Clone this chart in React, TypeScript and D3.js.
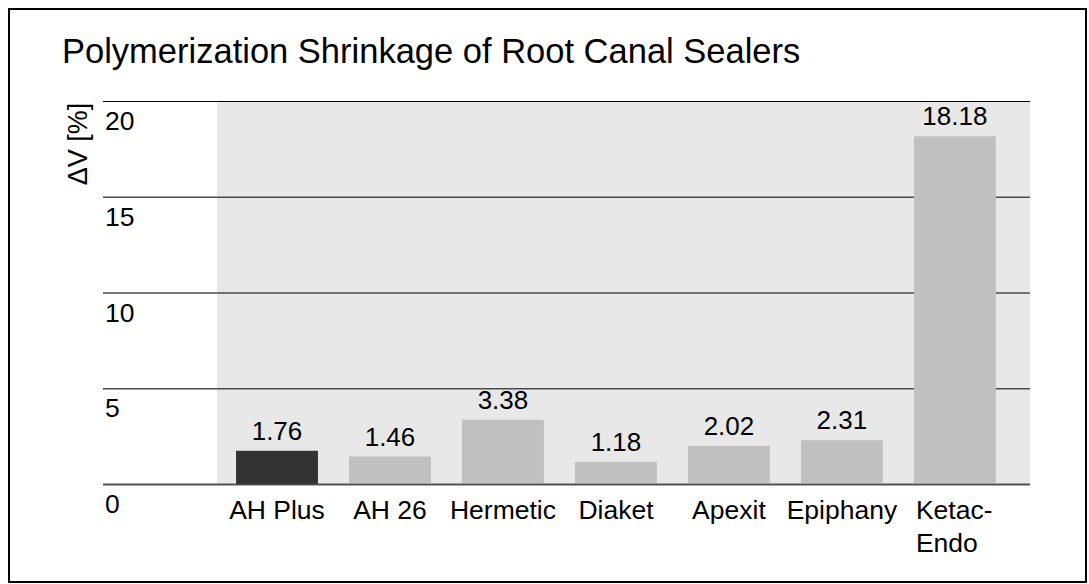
import React from 'react'
import * as d3 from 'd3'

// data
const categories = ['AH Plus', 'AH 26', 'Hermetic', 'Diaket', 'Apexit', 'Epiphany', 'Ketac-\nEndo']
const shrinkage = [1.76, 1.46, 3.38, 1.18, 2.02, 2.31, 18.18]
const yTicks = [0, 5, 10, 15, 20]
const highlight = 'AH Plus'

const W = 1089
const H = 584
const font = '"Liberation Sans", Arial, sans-serif'

export default function App() {
    const yScale = d3.scaleLinear().domain([0, 20]).range([484.5, 101.5])
    const xScale = d3.scaleBand<string>()
        .domain(categories)
        .range([220.5, 1011.4])
        .paddingInner(0.275)
        .paddingOuter(0.1375)

    const plotLeft = 217
    const plotRight = 1030
    const gridLeft = 103

    return (
        <svg width={W} height={H} style={{ position: 'absolute', left: 0, top: 0 }} fontFamily={font}>
            <rect x={0} y={0} width={W} height={H} fill="#fff" />
            <rect x={9} y={9} width={1077} height={573} fill="none" stroke="#000" strokeWidth={2} />

            <text x={62} y={63} fontSize={34.5} fill="#000">Polymerization Shrinkage of Root Canal Sealers</text>

            {/* plot background */}
            <rect x={plotLeft} y={yScale(20)} width={plotRight - plotLeft} height={yScale(0) - yScale(20)} fill="#e8e8e8" />

            {/* gridlines + tick labels */}
            {yTicks.map(t => (
                <g key={t}>
                    <line x1={gridLeft} x2={plotRight} y1={yScale(t)} y2={yScale(t)}
                        stroke={t === 20 ? '#000' : '#4a4a4a'} strokeWidth={t === 20 ? 1.2 : 1.6} />
                    <text x={105} y={yScale(t) + 28.5} fontSize={26.5} fill="#000">{t}</text>
                </g>
            ))}

            <text transform={`translate(87,144) rotate(-90)`} textAnchor="middle" fontSize={27} fill="#000">ΔV [%]</text>

            {/* bars */}
            {categories.map((c, i) => {
                const x = xScale(c) as number
                const v = shrinkage[i]
                return (
                    <g key={c}>
                        <rect x={x} y={yScale(v)} width={xScale.bandwidth()} height={yScale(0) - yScale(v)}
                            fill={c === highlight ? '#333333' : '#c0c0c0'} />
                        <text x={x + xScale.bandwidth() / 2} y={yScale(v) - 11} textAnchor="middle" fontSize={26} fill="#000">
                            {v.toFixed(2)}
                        </text>
                    </g>
                )
            })}

            {/* redraw base line over bars */}
            <line x1={gridLeft} x2={plotRight} y1={yScale(0)} y2={yScale(0)} stroke="#4a4a4a" strokeWidth={1.6} />

            {/* category labels */}
            {categories.map(c => {
                const x = xScale(c) as number
                const lines = c.split('\n')
                if (lines.length === 1) {
                    return (
                        <text key={c} x={x + xScale.bandwidth() / 2} y={518.5} textAnchor="middle" fontSize={26.5} fill="#000">{c}</text>
                    )
                }
                return (
                    <text key={c} x={x + 2} y={518.5} fontSize={26.5} fill="#000">
                        {lines.map((l, j) => (
                            <tspan key={j} x={x + 2} dy={j === 0 ? 0 : 33.5}>{l}</tspan>
                        ))}
                    </text>
                )
            })}
        </svg>
    )
}
